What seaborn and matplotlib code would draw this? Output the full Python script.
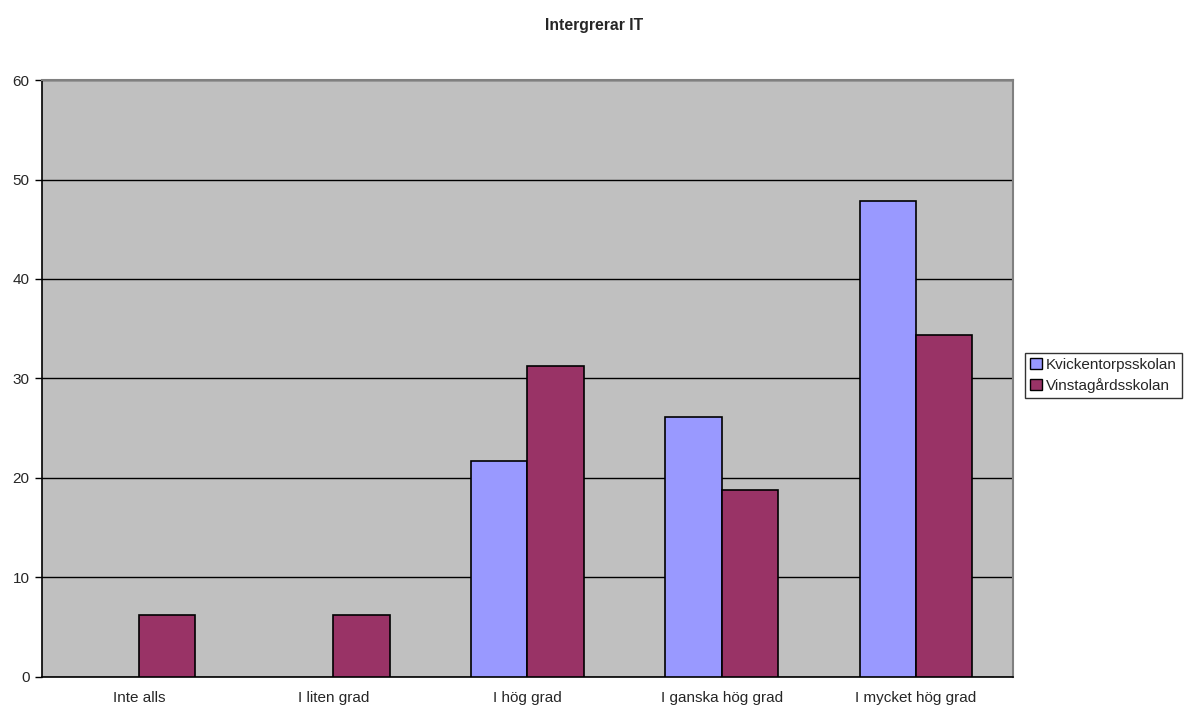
import pandas as pd
import matplotlib.pyplot as plt
import seaborn as sns
from matplotlib.patches import Patch

categories = ['Inte alls', 'I liten grad', 'I hög grad', 'I ganska hög grad', 'I mycket hög grad']
kvickentorp = [0, 0, 21.7, 26.1, 47.8]
vinstagard = [6.25, 6.25, 31.25, 18.75, 34.4]
series = ['Kvickentorpsskolan', 'Vinstagårdsskolan']
colors = ['#9999FF', '#993366']

df = pd.DataFrame({
    'kategori': categories * 2,
    'skola': [series[0]] * 5 + [series[1]] * 5,
    'varde': kvickentorp + vinstagard,
})

sns.set_style('white')
plt.rcParams['font.family'] = ['Liberation Sans', 'DejaVu Sans']

fig = plt.figure(figsize=(11.89, 7.08), dpi=100)
ax = fig.add_axes([0.0353, 0.0438, 0.8167, 0.8432])
ax.set_facecolor('#C0C0C0')

sns.barplot(data=df, x='kategori', y='varde', hue='skola', palette=colors,
            saturation=1, width=0.58, edgecolor='black', linewidth=1.2, ax=ax,
            legend=False, zorder=3)

# hide the zero-height bars
for p in ax.patches:
    if p.get_height() == 0:
        p.set_visible(False)

ax.set_ylim(0, 60)
ax.set_xlim(-0.5, 4.5)
ax.set_yticks(range(0, 61, 10))
ax.yaxis.grid(True, color='black', linewidth=1, zorder=1)
ax.set_axisbelow(True)

ax.set_xticks(range(5))
ax.set_xticklabels(categories)
ax.tick_params(axis='x', length=0, pad=10, labelsize=11)
ax.set_xticks([i - 0.5 for i in range(6)], minor=True)
ax.tick_params(axis='x', which='minor', length=5, width=1, color='black', direction='out')
ax.tick_params(axis='y', length=5, width=1, color='black', direction='out', labelsize=11,
               left=True, pad=4)

ax.set_xlabel('')
ax.set_ylabel('')

for side in ['top', 'right']:
    ax.spines[side].set_color('#808080')
    ax.spines[side].set_linewidth(1.5)
for side in ['left', 'bottom']:
    ax.spines[side].set_color('black')
    ax.spines[side].set_linewidth(1.2)

fig.suptitle('Intergrerar IT', fontsize=11.3, fontweight='bold', y=0.975)

handles = [Patch(facecolor=c, edgecolor='black', label=s) for c, s in zip(colors, series)]
leg = fig.legend(handles=handles, loc='center left', bbox_to_anchor=(0.862, 0.4695),
                 frameon=True, fancybox=False, edgecolor='black', fontsize=11,
                 handlelength=0.75, handleheight=0.75, handletextpad=0.25,
                 borderpad=0.35, labelspacing=0.4, borderaxespad=0)
leg.get_frame().set_linewidth(1)

fig.savefig('out.png', dpi=100)
